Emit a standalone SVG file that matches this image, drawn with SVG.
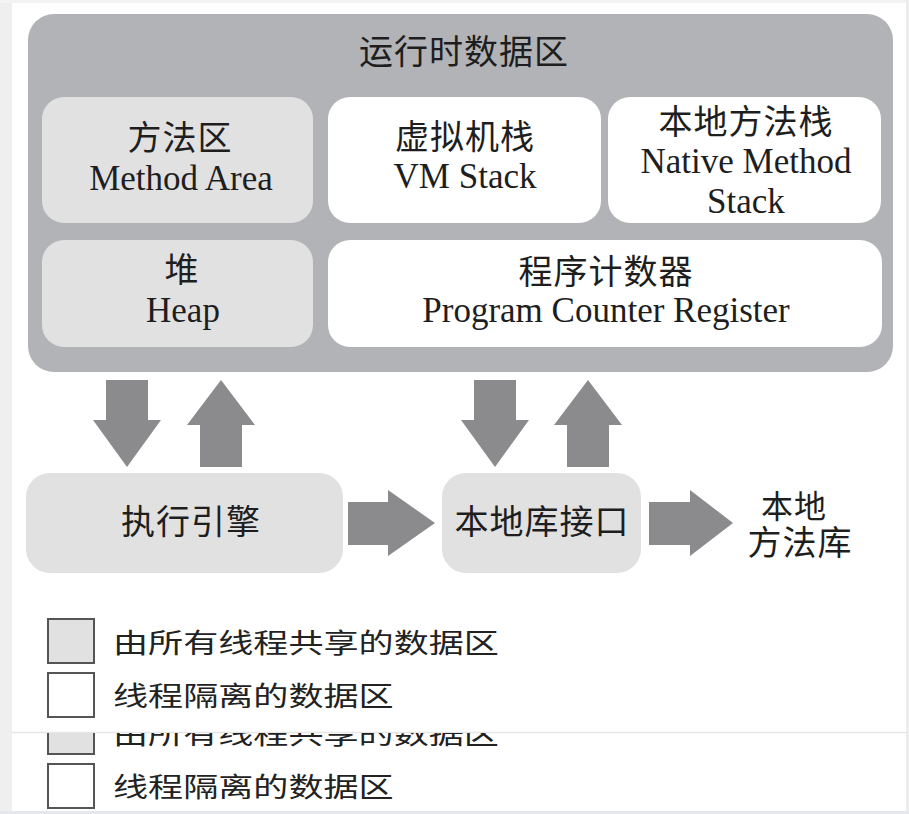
<svg xmlns="http://www.w3.org/2000/svg" width="909" height="814" viewBox="0 0 909 814">
  <defs>
    <style>
      .frame { fill: #b2b3b6; }
      .shared { fill: #e1e1e2; }
      .local { fill: #ffffff; }
      .flow { fill: #8b8b8d; }
      .zh { font-family: "Noto Sans CJK SC", "Liberation Serif", sans-serif; font-size: 34px; letter-spacing: 1px; fill: #1e1e1e; text-anchor: middle; }
      .en { font-family: "Liberation Serif", serif; font-size: 35px; fill: #1e1e1e; text-anchor: middle; }
      .key { stroke: #555557; stroke-width: 2; }
      .keytext { font-family: "Noto Sans CJK SC", sans-serif; font-size: 27px; fill: #222; }
    </style>
    <clipPath id="lowerHalf">
      <rect x="0" y="733" width="909" height="81"/>
    </clipPath>
  </defs>

  <!-- page background and edges -->
  <rect x="0" y="0" width="909" height="814" fill="#ffffff"/>
  <rect x="0" y="0" width="12" height="814" fill="#efefef"/>
  <rect x="0" y="0" width="909" height="3" fill="#f3f3f3"/>
  <rect x="906" y="0" width="3" height="814" fill="#ececec"/>
  <rect x="0" y="811" width="909" height="3" fill="#e6e6ee"/>

  <!-- runtime data area -->
  <g id="runtime-data-area">
    <rect class="frame" x="28" y="14" width="865" height="358" rx="26"/>
    <text class="zh" x="464" y="64">运行时数据区</text>
  </g>

  <g id="method-area">
    <rect class="shared" x="42" y="97" width="271" height="126" rx="22"/>
    <text class="zh" x="180" y="150">方法区</text>
    <text class="en" x="181" y="190">Method Area</text>
  </g>

  <g id="vm-stack">
    <rect class="local" x="328" y="97" width="273" height="126" rx="22"/>
    <text class="zh" x="465" y="149">虚拟机栈</text>
    <text class="en" x="465" y="188">VM Stack</text>
  </g>

  <g id="native-method-stack">
    <rect class="local" x="608" y="97" width="273" height="126" rx="22"/>
    <text class="zh" x="746" y="134">本地方法栈</text>
    <text class="en" x="746" y="173">Native Method</text>
    <text class="en" x="746" y="213">Stack</text>
  </g>

  <g id="heap">
    <rect class="shared" x="42" y="240" width="271" height="107" rx="22"/>
    <text class="zh" x="182" y="282">堆</text>
    <text class="en" x="183" y="322">Heap</text>
  </g>

  <g id="program-counter">
    <rect class="local" x="328" y="240" width="554" height="107" rx="22"/>
    <text class="zh" x="606" y="284">程序计数器</text>
    <text class="en" x="606" y="322">Program Counter Register</text>
  </g>

  <!-- execution side -->
  <g id="execution-engine">
    <rect class="shared" x="26" y="473" width="317" height="100" rx="24"/>
    <text class="zh" x="191" y="534">执行引擎</text>
  </g>

  <g id="native-interface">
    <rect class="shared" x="442" y="473" width="199" height="100" rx="24"/>
    <text class="zh" x="542" y="534">本地库接口</text>
  </g>

  <g id="native-libraries">
    <text class="zh"><tspan x="794" y="518" font-size="32">本地</tspan><tspan x="800" y="555">方法库</tspan></text>
  </g>

  <!-- block arrows between the parts -->
  <g id="connectors">
    <polygon class="flow" points="106,380 148,380 148,420 161,420 127,467 93,420 106,420"/>
    <polygon class="flow" points="221,380 255,425 242,425 242,467 200,467 200,425 187,425"/>
    <polygon class="flow" points="474,380 516,380 516,420 529,420 495,467 461,420 474,420"/>
    <polygon class="flow" points="588,380 622,425 609,425 609,467 567,467 567,425 554,425"/>
    <polygon class="flow" points="348,502 388,502 388,490 435,523 388,556 388,545 348,545"/>
    <polygon class="flow" points="649,502 690,502 690,490 733,523 690,556 690,545 649,545"/>
  </g>

  <!-- key -->
  <g id="legend">
    <rect class="key shared" x="48" y="619" width="46" height="44"/>
    <text class="keytext" transform="translate(113,653) scale(1.3,1)">由所有线程共享的数据区</text>
    <rect class="key local" x="48" y="673" width="46" height="44"/>
    <text class="keytext" transform="translate(113,706) scale(1.3,1)">线程隔离的数据区</text>

    <line x1="12" y1="732.5" x2="906" y2="732.5" stroke="#e6e6e6" stroke-width="1.5"/>

    <g clip-path="url(#lowerHalf)">
      <rect class="key shared" x="48" y="710" width="46" height="44"/>
      <text class="keytext" transform="translate(113,744) scale(1.3,1)">由所有线程共享的数据区</text>
    </g>
    <rect class="key local" x="48" y="764" width="46" height="44"/>
    <text class="keytext" transform="translate(113,797) scale(1.3,1)">线程隔离的数据区</text>
  </g>
</svg>
